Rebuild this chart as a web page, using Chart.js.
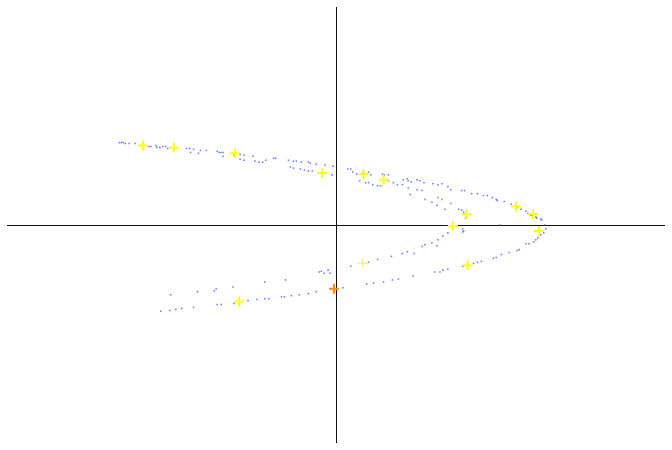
<!DOCTYPE html>
<html>
<head>
<meta charset="utf-8">
<script src="https://cdn.jsdelivr.net/npm/chart.js@4"></script>
<style>
html,body{margin:0;padding:0;background:#fff;overflow:hidden;}
canvas{display:block;}
</style>
</head>
<body>
<canvas id="c" width="672" height="450" style="width:672px;height:450px;"></canvas>
<script>
// Orbit points (x, y)
const orbitX = [-1.317,-1.305,-1.293,-1.281,-1.257,-1.221,-1.137,-1.125,-1.095,-1.089,-1.071,-1.053,-1.035,-1.023,-0.986,-0.908,-0.890,-0.884,-0.866,-0.836,-0.824,-0.788,-0.722,-0.710,-0.698,-0.686,-0.686,-0.620,-0.583,-0.559,-0.583,-0.559,-0.505,-0.493,-0.469,-0.445,-0.427,-0.379,-0.367,-0.289,-0.259,-0.241,-0.211,-0.168,-0.156,-0.120,-0.066,-0.018,
-0.277,-0.259,-0.217,-0.192,-0.168,-0.144,-0.078,-0.024,
0.072,0.090,0.102,0.126,0.162,0.198,0.211,0.144,0.180,0.198,0.223,0.253,0.271,0.283,0.295,0.319,0.319,0.349,0.373,0.403,0.409,0.433,0.439,0.457,0.493,0.511,0.439,0.493,0.523,0.535,0.589,0.620,0.644,0.680,0.698,
0.451,0.541,0.583,0.620,0.644,0.614,0.662,0.698,0.764,0.782,0.824,0.860,0.896,0.920,0.950,0.974,0.980,1.023,0.746,0.764,0.776,0.788,1.065,1.101,1.125,1.155,1.167,1.179,1.185,1.215,1.221,1.245,1.251,1.269,
0.770,0.776,0.770,0.998,1.275,1.263,1.245,1.227,1.215,1.203,1.173,1.155,0.680,0.650,0.620,0.583,0.541,0.614,0.523,0.475,0.433,0.403,0.337,0.253,0.198,0.090,-0.048,-0.036,0.042,
1.113,1.101,1.053,1.005,0.974,0.956,0.884,0.860,0.836,0.770,0.680,0.650,0.632,0.602,0.469,0.379,0.343,0.289,0.229,0.186,
-0.102,-0.090,-0.072,-0.433,-0.307,-0.626,-0.728,-0.740,-0.842,-1.005,-0.120,-0.168,-0.223,-0.271,-0.313,-0.331,-0.409,-0.433,-0.481,-0.535,-0.620,-0.698,-0.722,-0.866,-0.938,-0.974,-1.011,-1.065];
const orbitY = [0.378,0.378,0.378,0.374,0.374,0.374,0.360,0.360,0.365,0.356,0.356,0.360,0.360,0.351,0.347,0.351,0.351,0.333,0.347,0.329,0.342,0.342,0.338,0.333,0.333,0.333,0.315,0.320,0.324,0.320,0.302,0.297,0.315,0.293,0.288,0.288,0.297,0.306,0.306,0.297,0.293,0.293,0.288,0.288,0.284,0.279,0.275,0.270,
0.266,0.261,0.257,0.252,0.248,0.248,0.239,0.230,
0.257,0.257,0.243,0.234,0.239,0.243,0.230,0.203,0.194,0.194,0.185,0.180,0.180,0.234,0.230,0.230,0.203,0.194,0.185,0.185,0.207,0.212,0.203,0.198,0.207,0.203,0.171,0.162,0.158,0.194,0.189,0.185,0.189,0.176,0.162,
0.140,0.117,0.104,0.126,0.117,0.090,0.072,0.099,0.158,0.158,0.144,0.144,0.135,0.135,0.126,0.117,0.113,0.108,0.072,0.068,0.059,0.032,0.095,0.081,0.072,0.063,0.054,0.050,0.045,0.036,0.032,0.027,0.023,0.000,
-0.018,-0.027,-0.032,0.000,-0.018,-0.036,-0.045,-0.059,-0.068,-0.077,-0.086,-0.086,-0.036,-0.050,-0.068,-0.081,-0.090,-0.095,-0.099,-0.131,-0.122,-0.131,-0.144,-0.158,-0.171,-0.189,-0.207,-0.221,-0.288,
-0.113,-0.117,-0.126,-0.135,-0.149,-0.153,-0.167,-0.171,-0.176,-0.189,-0.203,-0.207,-0.216,-0.216,-0.234,-0.248,-0.252,-0.261,-0.266,-0.270,
-0.216,-0.212,-0.221,-0.261,-0.252,-0.284,-0.293,-0.302,-0.306,-0.320,-0.306,-0.315,-0.320,-0.324,-0.329,-0.329,-0.338,-0.338,-0.342,-0.347,-0.360,-0.365,-0.365,-0.378,-0.383,-0.387,-0.392,-0.396];

// Highlighted points (yellow crosses)
const markX = [-1.173,-0.986,-0.614,-0.084,0.168,0.289,0.794,1.095,1.197,0.710,1.233,0.800,-0.589];
const markY = [0.365,0.356,0.329,0.239,0.234,0.207,0.050,0.086,0.050,-0.005,-0.027,-0.185,-0.351];
// Faint cross
const faintX = [0.162];
const faintY = [-0.176];
// Starting point (orange cross)
const startX = [-0.012];
const startY = [-0.293];

const toPts = (xs, ys) => xs.map((x, i) => ({x: x, y: ys[i]}));

const axisGrid = {
  color: (ctx) => (ctx.tick && ctx.tick.value === 0) ? '#111' : 'rgba(0,0,0,0)',
  lineWidth: 1,
  drawTicks: false,
  tickLength: 0
};

new Chart(document.getElementById('c'), {
  type: 'scatter',
  data: {
    datasets: [
      {
        data: toPts(orbitX, orbitY),
        pointStyle: 'rect',
        pointRadius: 1.1,
        borderWidth: 0,
        backgroundColor: 'rgba(55,85,255,0.75)',
        order: 3
      },
      {
        data: toPts(faintX, faintY),
        pointStyle: 'cross',
        pointRadius: 5,
        borderWidth: 1.5,
        borderColor: 'rgba(240,240,80,0.75)',
        order: 2
      },
      {
        data: toPts(markX, markY),
        pointStyle: 'cross',
        pointRadius: 5,
        borderWidth: 2,
        borderColor: 'rgb(255,255,20)',
        order: 1
      },
      {
        data: toPts(startX, startY),
        pointStyle: 'cross',
        pointRadius: 5,
        borderWidth: 2,
        borderColor: 'rgb(250,140,20)',
        order: 0
      }
    ]
  },
  options: {
    responsive: false,
    maintainAspectRatio: false,
    devicePixelRatio: 1,
    animation: false,
    layout: { padding: 0 },
    plugins: { legend: { display: false }, tooltip: { enabled: false } },
    scales: {
      x: {
        type: 'linear', min: -2, max: 2, position: 'top',
        ticks: { display: false, stepSize: 1, padding: 0 },
        border: { display: false },
        grid: axisGrid,
        afterFit: (s) => { s.height = 6; }
      },
      y: {
        type: 'linear', min: -1, max: 1, position: 'left',
        ticks: { display: false, stepSize: 1, padding: 0 },
        border: { display: false },
        grid: axisGrid,
        afterFit: (s) => { s.width = 7; }
      }
    }
  }
});
</script>
</body>
</html>
